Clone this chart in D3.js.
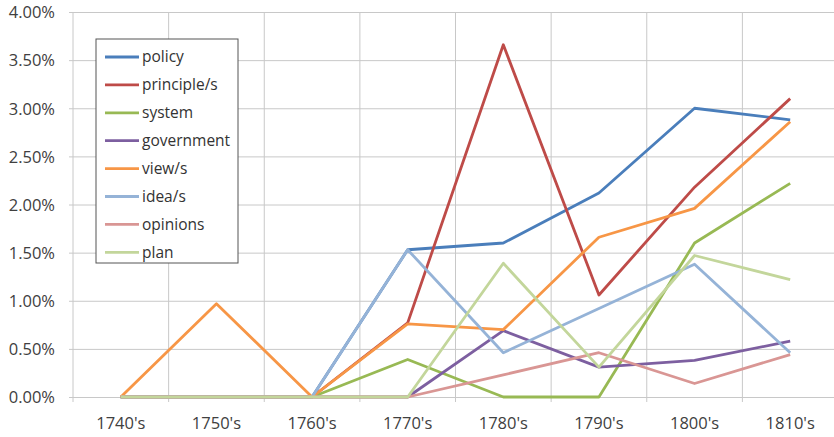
<!DOCTYPE html>
<html>
<head>
<meta charset="utf-8">
<script src="https://cdn.jsdelivr.net/npm/d3@7"></script>
<style>
  body { margin: 0; background: #fff; }
  svg { display: block; font-family: "Open Sans", sans-serif; }
  .axis text { fill: #404040; }
  .axis path { display: none; }
  .axis line { stroke: #c8c8c8; }
  .legend text { fill: #333; font-size: 15.5px; }
</style>
</head>
<body>
<div id="chart"></div>
<script>
// decades on the x axis
const decades = ["1740's", "1750's", "1760's", "1770's", "1780's", "1790's", "1800's", "1810's"];
const yTicks = [0, 0.5, 1, 1.5, 2, 2.5, 3, 3.5, 4];

// share of mentions, in percent
const policy     = [0, 0, 0, 1.53, 1.60, 2.12, 3.00, 2.88];
const principles = [0, 0, 0, 0.77, 3.66, 1.06, 2.18, 3.10];
const system     = [0, 0, 0, 0.39, 0, 0, 1.60, 2.22];
const government = [0, 0, 0, 0, 0.69, 0.31, 0.38, 0.58];
const views      = [0, 0.97, 0, 0.76, 0.70, 1.66, 1.96, 2.86];
const ideas      = [0, 0, 0, 1.53, 0.46, 0.92, 1.38, 0.46];
const opinions   = [0, 0, 0, 0, 0.23, 0.46, 0.14, 0.44];
const plan       = [0, 0, 0, 0, 1.39, 0.31, 1.47, 1.22];

const seriesNames  = ["policy", "principle/s", "system", "government", "view/s", "idea/s", "opinions", "plan"];
const seriesValues = [policy, principles, system, government, views, ideas, opinions, plan];
const seriesColors = ["#4a7ebb", "#be4b48", "#98b954", "#7d5fa0", "#f79646", "#95b3d7", "#d99694", "#c3d69b"];

//=========== SETUP ===========//
const W = 834, H = 437;
const margin = {top: 12, right: -4, bottom: 40, left: 73};
const width = W - margin.left - margin.right,
      height = H - margin.top - margin.bottom;

const svg = d3.select("#chart").append("svg")
    .attr("width", W)
    .attr("height", H);

const g = svg.append("g")
    .attr("transform", "translate(" + margin.left + "," + margin.top + ")");

const x = d3.scaleBand().domain(decades).range([0, width]);
const y = d3.scaleLinear().domain([0, 4]).range([height, 0]);

// horizontal grid + y labels
g.append("g")
    .attr("class", "y axis")
    .call(d3.axisLeft(y).tickValues(yTicks).tickSize(-width - 4)
        .tickFormat(d => d.toFixed(2) + "%"))
    .call(a => a.attr("font-family", null).attr("font-size", 16.5))
    .call(a => a.selectAll(".tick line").attr("x1", -4).attr("x2", width))
    .call(a => a.selectAll("text").attr("x", -18).attr("dy", "0.35em"));

// vertical grid at band edges
const edges = decades.map(d => x(d)).concat([width]);
g.append("g")
    .attr("class", "axis")
    .selectAll("line")
    .data(edges)
    .join("line")
    .attr("x1", d => d).attr("x2", d => d)
    .attr("y1", 0).attr("y2", height + 5);

// x labels
g.append("g")
    .attr("class", "x axis")
    .attr("transform", "translate(0," + height + ")")
    .call(d3.axisBottom(x).tickSize(0).tickPadding(20))
    .call(a => a.attr("font-family", null).attr("font-size", 16.5))
    .call(a => a.selectAll(".tick line").remove());

//=========== LINES ===========//
const line = d3.line()
    .x((d, i) => x(decades[i]) + x.bandwidth() / 2)
    .y(d => y(d));

g.selectAll(".series")
    .data(seriesValues)
    .join("path")
    .attr("class", "series")
    .attr("fill", "none")
    .attr("stroke", (d, i) => seriesColors[i])
    .attr("stroke-width", 2.8)
    .attr("stroke-linejoin", "round")
    .attr("d", line);

//=========== LEGEND ===========//
const legend = svg.append("g")
    .attr("class", "legend")
    .attr("transform", "translate(96,39)");

legend.append("rect")
    .attr("width", 142).attr("height", 224)
    .attr("fill", "#fff")
    .attr("stroke", "#555")
    .attr("stroke-width", 1);

const item = legend.selectAll(".item")
    .data(seriesNames)
    .join("g")
    .attr("class", "item")
    .attr("transform", (d, i) => "translate(0," + (18 + i * 27.9) + ")");

item.append("line")
    .attr("x1", 9).attr("x2", 43)
    .attr("stroke", (d, i) => seriesColors[i])
    .attr("stroke-width", 2.8);

item.append("text")
    .attr("x", 46)
    .attr("dy", "0.35em")
    .text(d => d);
</script>
</body>
</html>
